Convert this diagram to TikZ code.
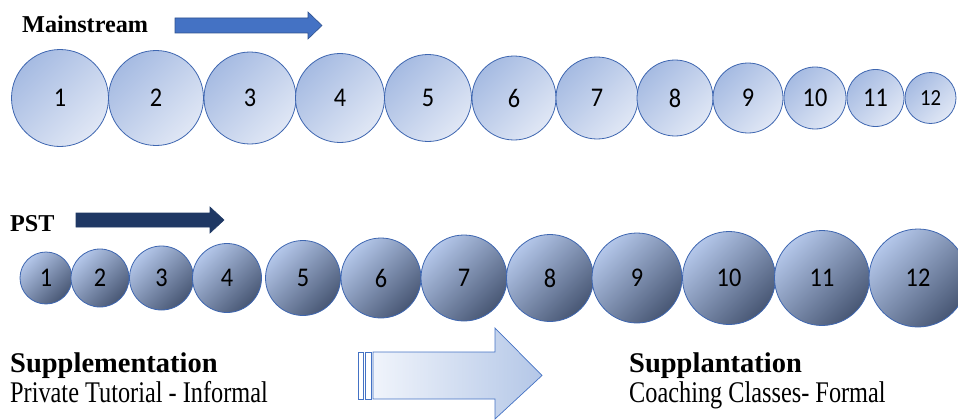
\documentclass[tikz,border=0pt]{standalone}
\usepackage{fontspec}
\setmainfont{Liberation Serif}
\newfontfamily\numfont[FakeStretch=0.9]{Carlito}
\newfontfamily\subfont[FakeStretch=0.81]{Liberation Serif}
\definecolor{mainA}{RGB}{166,187,226}
\definecolor{mainB}{RGB}{224,231,245}
\definecolor{cborder}{RGB}{62,102,176}
\definecolor{pstA}{RGB}{180,199,234}
\definecolor{pstB}{RGB}{72,87,116}
\definecolor{arrMain}{RGB}{68,114,196}
\definecolor{arrMainB}{RGB}{47,82,143}
\definecolor{arrPst}{RGB}{31,56,100}
\definecolor{bigL}{RGB}{240,244,251}
\definecolor{bigR}{RGB}{180,199,231}
\tikzset{
  mainc/.style={circle, draw=cborder, line width=0.8pt, inner sep=0pt,
    top color=mainA, middle color=mainA, bottom color=mainB, shading angle=45,
    font=\numfont\fontsize{27}{27}\selectfont},
  pstc/.style={circle, draw=cborder, line width=0.8pt, inner sep=0pt,
    top color=pstA, bottom color=pstB, shading angle=45,
    font=\numfont\fontsize{27}{27}\selectfont},
  boldlbl/.style={anchor=base west, inner sep=0pt, font=\bfseries\fontsize{24.2}{24.2}\selectfont},
  biglbl/.style={anchor=base west, inner sep=0pt, font=\bfseries\fontsize{28.5}{28.5}\selectfont},
  sublbl/.style={anchor=base west, inner sep=0pt, font=\subfont\fontsize{30}{30}\selectfont},
}
\begin{document}
\begin{tikzpicture}[x=1pt,y=-1pt]
\useasboundingbox (0,0) rectangle (958,420);
% labels
\node[boldlbl] (lmain) at (22,33) {Mainstream};
\node[boldlbl] (lpst) at (10,231) {PST};
\node[biglbl] (lsupp) at (10,372) {Supplementation};
\node[sublbl] (lsuppsub) at (10,402) {Private Tutorial - Informal};
\node[biglbl] (lsupl) at (629,372) {Supplantation};
\node[sublbl] (lsuplsub) at (629,402) {Coaching Classes- Formal};
% arrows
\filldraw[fill=arrMain, draw=arrMainB, line width=0.6pt]
  (175,18) -- (308,18) -- (308,12) -- (322,25.5) -- (308,39) -- (308,33) -- (175,33) -- cycle;
\filldraw[fill=arrPst, draw=arrPst, line width=0.6pt]
  (76,213) -- (210,213) -- (210,207) -- (224,220) -- (210,233) -- (210,227) -- (76,227) -- cycle;
\filldraw[fill=white, draw=arrMain, line width=0.7pt] (358,352) rectangle (363,399);
\filldraw[fill=white, draw=arrMain, line width=0.7pt] (365,352) rectangle (371,399);
\draw[left color=bigL, right color=bigR, draw=arrMain, line width=0.7pt]
  (373,352) -- (495,352) -- (495,328) -- (542,375.5) -- (495,419) -- (495,399) -- (373,399) -- cycle;
% mainstream circles
\foreach \x/\d/\n in {60/97/1,156/95/2,250/92/3,340/89/4,428/87/5,514/84/6,597/82/7,675/76/8,748/70/9,815/62/10,875.5/57/11}
  \node[mainc, minimum size=\d pt] (m\n) at (\x,98) {\n};
\node[mainc, minimum size=51pt, font=\numfont\fontsize{23}{23}\selectfont] (m12) at (930.5,98) {12};
% PST circles
\foreach \x/\d/\n in {46/52/1,100/58/2,161.5/64/3,227/69/4,303/75/5,381/80/6,464/86/7,550/87/8,637/90/9,729/93/10,822/95/11,918/98/12}
  \node[pstc, minimum size=\d pt] (p\n) at (\x,278) {\n};
\end{tikzpicture}
\end{document}
